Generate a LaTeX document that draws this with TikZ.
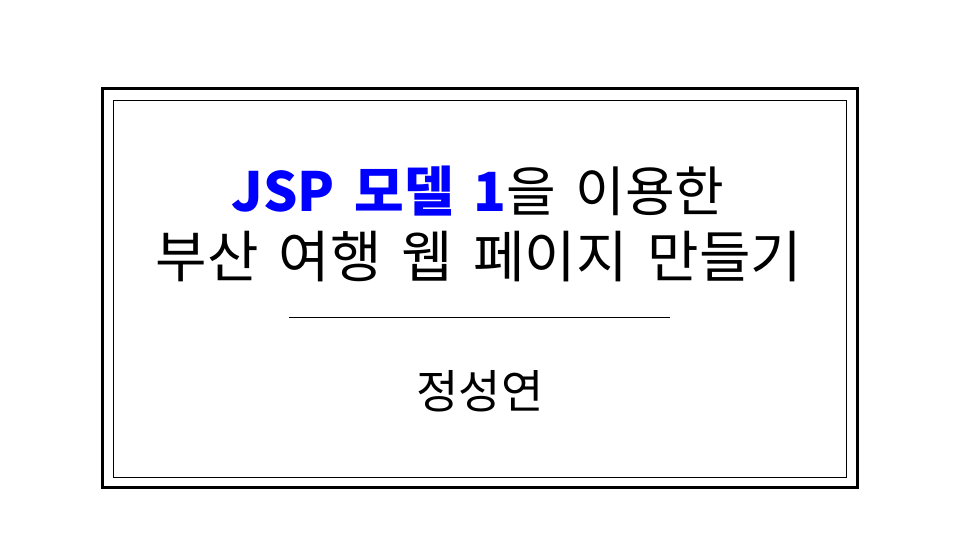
\documentclass[tikz,border=0pt]{standalone}
\usepackage{fontspec}
\setmainfont[WordSpace=1.6]{Noto Sans CJK KR}
\usepackage{xcolor}
\usetikzlibrary{positioning}
\definecolor{titleblue}{RGB}{0,0,255}
\tikzset{
  titletext/.style={font=\fontsize{56}{66}\selectfont, inner sep=0pt, anchor=base},
  nametext/.style={font=\fontsize{46}{55}\selectfont, inner sep=0pt, anchor=base},
}
\begin{document}
\begin{tikzpicture}[x=1pt, y=-1pt]
            \useasboundingbox (0, 0) rectangle (960, 540);
            \draw[line width=3pt] (102, 89) rectangle (857, 487);
            \draw[line width=1pt] (113, 101) rectangle (846, 477);
            \node[titletext, font=\fontsize{54}{66}\selectfont] (line1) at (478, 211) {\textcolor{titleblue}{\bfseries JSP 모델 1}을 이용한};
            \node[titletext] (line2) at (479, 277) {부산 여행 웹 페이지 만들기};
            \coordinate (rulel) at (289, 317);
            \coordinate (ruler) at (670, 317);
            \draw[line width=0.8pt] (rulel) -- (ruler);
            \node[nametext] (author) at (480, 408) {정성연};
        \end{tikzpicture}
\end{document}
